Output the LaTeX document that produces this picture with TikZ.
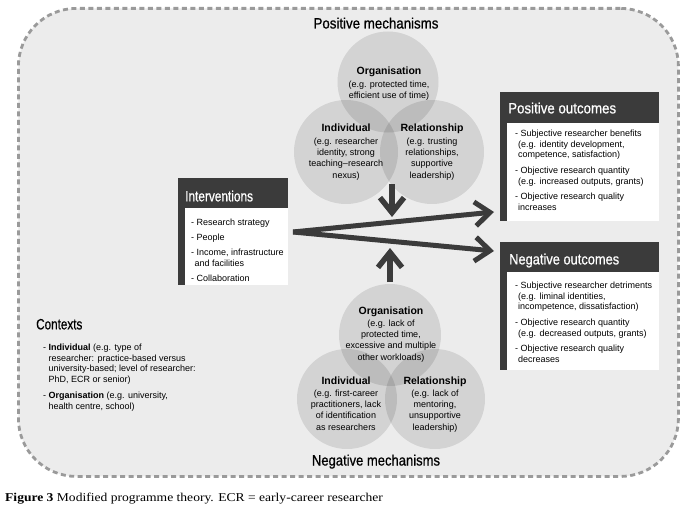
\documentclass[tikz,border=0pt]{standalone}
\usepackage{graphicx}
\usepackage{fontspec}
\setmainfont{Liberation Sans}
\newfontfamily\hfont[FakeBold=0.7]{Liberation Sans}
\newfontfamily\capfont{Liberation Serif}
\usetikzlibrary{arrows.meta}
\definecolor{bg}{HTML}{ECECEC}
\definecolor{dashc}{HTML}{9A9A9A}
\definecolor{dark}{HTML}{3B3B3B}
\tikzset{
  venn/.style={circle, fill=black, fill opacity=0.105, minimum size=102pt, inner sep=0pt},
  ctext/.style={font=\fontsize{9}{11.2}\selectfont, align=center, inner sep=0pt, anchor=north},
  body/.style={font=\fontsize{9}{10.8}\selectfont, align=left, inner sep=0pt, anchor=north west},
  hdr/.style={font=\hfont\fontsize{15}{15}\selectfont, inner sep=0pt, anchor=base west, text=white},
  mech/.style={font=\hfont\fontsize{15}{15}\selectfont, inner sep=0pt, anchor=base},
  darkbox/.style={fill=dark, inner sep=0pt, anchor=north west},
  whitebox/.style={fill=white, inner sep=0pt, anchor=north west},
  bigarr/.style={draw=dark, line width=5pt, -{Straight Barb[length=15pt,width=24pt]}},
  vertarr/.style={draw=dark, line width=5.5pt, -{Straight Barb[length=15pt,width=24pt]}}
}
\newcommand{\ttl}[1]{{\fontsize{10.5}{11.2}\selectfont\bfseries #1}}
\begin{document}
\begin{tikzpicture}[x=1pt,y=-1pt]
\useasboundingbox (0,0) rectangle (683,511);
\fill[white] (0,0) rectangle (683,511);
\node[draw=dashc, line width=2.8pt, dash pattern=on 5pt off 3.5pt, fill=bg, rounded corners=58pt,
  minimum width=660pt, minimum height=468pt, anchor=north west, inner sep=0pt] (frame) at (17,7) {};

% positive mechanisms
\node[venn, minimum size=101pt] (porg) at (388,82) {};
\node[venn, minimum size=104pt] (pind) at (346,152) {};
\node[venn, minimum size=104pt] (prel) at (432,152) {};
\node[mech] (ptitle) at (376,28.5) {\scalebox{0.887}[1]{Positive mechanisms}};
\node[ctext] (porgt) at (389,67) {\ttl{Organisation}\\[1pt](e.g. protected time,\\efficient use of time)};
\node[ctext] (pindt) at (346,124) {\ttl{Individual}\\[1.5pt](e.g. researcher\\identity, strong\\teaching--research\\nexus)};
\node[ctext] (prelt) at (432,124) {\ttl{Relationship}\\[1.5pt](e.g. trusting\\relationships,\\supportive\\leadership)};

% negative mechanisms
\node[venn, minimum size=102pt] (norg) at (390,335) {};
\node[venn, minimum size=100pt] (nind) at (347,399) {};
\node[venn, minimum size=100pt] (nrel) at (435,399) {};
\node[mech] (ntitle) at (376,465.5) {\scalebox{0.868}[1]{Negative mechanisms}};
\node[ctext] (norgt) at (391,307) {\ttl{Organisation}\\[0.5pt](e.g. lack of\\protected time,\\excessive and multiple\\other workloads)};
\node[ctext] (nindt) at (346,377) {\ttl{Individual}\\[0.5pt](e.g. first-career\\practitioners, lack\\of identification\\as researchers};
\node[ctext] (nrelt) at (435,377) {\ttl{Relationship}\\[0.5pt](e.g. lack of\\mentoring,\\unsupportive\\leadership)};

% interventions
\node[darkbox, minimum width=110pt, minimum height=107pt] (interv) at (178,178) {};
\node[whitebox, minimum width=103pt, minimum height=77pt] (intervw) at (185,208) {};
\node[hdr] (intervt) at (185,201.4) {\scalebox{0.79}[1]{Interventions}};
\node[body] (intervb) at (191,218.6) {- Research strategy\\[4.2pt]- People\\[4.2pt]- Income, infrastructure\\\hspace*{3.3pt}and facilities\\[4.2pt]- Collaboration};

% positive outcomes
\node[darkbox, minimum width=159pt, minimum height=129pt] (pout) at (500,92) {};
\node[whitebox, minimum width=152pt, minimum height=98pt] (poutw) at (507,123) {};
\node[hdr] (poutt) at (508,113.4) {\scalebox{0.887}[1]{Positive outcomes}};
\node[body] (poutb) at (515,129.6) {- Subjective researcher benefits\\\hspace*{3pt}(e.g. identity development,\\\hspace*{3pt}competence, satisfaction)\\[4.5pt]- Objective research quantity\\\hspace*{3pt}(e.g. increased outputs, grants)\\[4.5pt]- Objective research quality\\\hspace*{3pt}increases};

% negative outcomes
\node[darkbox, minimum width=159pt, minimum height=128pt] (nout) at (500,242) {};
\node[whitebox, minimum width=152pt, minimum height=98pt] (noutw) at (507,272) {};
\node[hdr] (noutt) at (509,264.4) {\scalebox{0.857}[1]{Negative outcomes}};
\node[body] (noutb) at (515,281.6) {- Subjective researcher detriments\\\hspace*{3pt}(e.g. liminal identities,\\\hspace*{3pt}incompetence, dissatisfaction)\\[4.5pt]- Objective research quantity\\\hspace*{3pt}(e.g. decreased outputs, grants)\\[4.5pt]- Objective research quality\\\hspace*{3pt}decreases};

% contexts
\node[hdr, text=black] (ctxt) at (36,329.4) {\scalebox{0.78}[1]{Contexts}};
\node[body] (ctxb) at (43,343.6) {- \textbf{Individual} (e.g. type of\\\hphantom{- }researcher: practice-based versus\\\hphantom{- }university-based; level of researcher:\\\hphantom{- }PhD, ECR or senior)\\[4.8pt]- \textbf{Organisation} (e.g. university,\\\hphantom{- }health centre, school)};

% arrows
\coordinate (istart) at (293,232);
\coordinate (ptip) at (494,212);
\coordinate (ntip) at (494,251);
\draw[bigarr] (istart) -- (ptip);
\draw[bigarr] (istart) -- (ntip);
\coordinate (dtop) at (392,184);
\coordinate (dtip) at (392,217);
\coordinate (ubot) at (390,282);
\coordinate (utip) at (390,248);
\draw[vertarr] (dtop) -- (dtip);
\draw[vertarr] (ubot) -- (utip);

% caption
\node[font=\capfont\fontsize{12}{12}\selectfont, anchor=base west, inner sep=0pt] (cap) at (5,501)
  {\scalebox{1.13}[1]{\textbf{Figure 3} Modified programme theory. ECR = early-career researcher}};
\end{tikzpicture}
\end{document}
